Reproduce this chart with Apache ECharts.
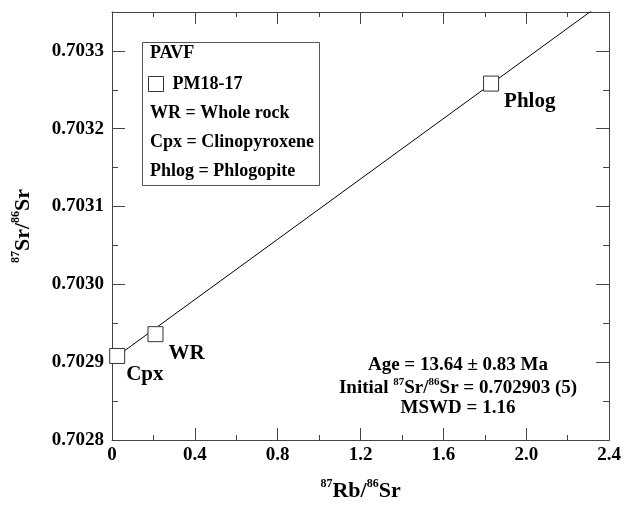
<!DOCTYPE html>
<html>
<head>
<meta charset="utf-8">
<script src="https://cdn.jsdelivr.net/npm/echarts@6/dist/echarts.min.js"></script>
<style>
html,body{margin:0;padding:0;background:#fff;}
#chart{width:624px;height:507px;}
</style>
</head>
<body>
<div id="chart"></div>
<script>
// ---- data ----
var sampleNames = ['Cpx', 'WR', 'Phlog'];
var rbSr = [0.025, 0.21, 1.83];
var srSr = [0.702908, 0.702936, 0.703258];
var isochronX = [0, 2.4];
var isochronY = [0.702903, 0.703368];
var xTicks = [0, 0.4, 0.8, 1.2, 1.6, 2.0, 2.4];
var yTicks = [0.7028, 0.7029, 0.7030, 0.7031, 0.7032, 0.7033];
var legendLines = ['PAVF', 'PM18-17', 'WR = Whole rock', 'Cpx = Clinopyroxene', 'Phlog = Phlogopite'];
var statLines = ['Age = 13.64 \u00b1 0.83 Ma', 'Initial 87Sr/86Sr = 0.702903 (5)', 'MSWD = 1.16'];

var FONT = '"Liberation Serif", "Times New Roman", serif';
var AX = '#444';
var labelPos = [[17, 27], [21, 27], [21, 26]];

var pts = rbSr.map(function (x, i) {
  return {
    value: [x, srSr[i]],
    name: sampleNames[i],
    label: { position: labelPos[i] }
  };
});
var linePts = isochronX.map(function (x, i) { return [x, isochronY[i]]; });

var XMIN = xTicks[0], XMAX = xTicks[xTicks.length - 1];
var YMIN = yTicks[0], YMAX = 0.70335;

function xAxisDef(pos, interval, len, major) {
  return {
    type: 'value', position: pos, min: XMIN, max: XMAX, interval: interval,
    axisLine: { show: major, onZero: false, lineStyle: { color: AX, width: 1 } },
    axisTick: { show: true, inside: true, length: len, lineStyle: { color: AX } },
    axisLabel: {
      show: major && pos === 'bottom', margin: 6,
      fontFamily: FONT, fontWeight: 'bold', fontSize: 19, color: '#000',
      formatter: function (v) { return v === 0 ? '0' : v.toFixed(1); }
    },
    splitLine: { show: false }
  };
}
function yAxisDef(pos, interval, len, major) {
  return {
    type: 'value', position: pos, min: YMIN, max: YMAX, interval: interval,
    axisLine: { show: major, onZero: false, lineStyle: { color: AX, width: 1 } },
    axisTick: { show: true, inside: true, length: len, lineStyle: { color: AX } },
    axisLabel: {
      show: major && pos === 'left', margin: 8, showMaxLabel: false,
      fontFamily: FONT, fontWeight: 'bold', fontSize: 19, color: '#000',
      formatter: function (v) {
        var k = v * 1e4;
        return Math.abs(k - Math.round(k)) < 1e-5 ? v.toFixed(4) : '';
      }
    },
    splitLine: { show: false }
  };
}

var xAxes = [
  xAxisDef('bottom', 0.4, 12, true),
  xAxisDef('bottom', 0.2, 5, false),
  xAxisDef('top', 0.4, 12, true),
  xAxisDef('top', 0.2, 5, false)
];
xAxes[0].name = '{s|87}{b|Rb/}{s|86}{b|Sr}';
xAxes[0].nameLocation = 'middle';
xAxes[0].nameGap = 38;
xAxes[0].nameTextStyle = {
  rich: {
    b: { fontFamily: FONT, fontWeight: 'bold', fontSize: 22, color: '#000', verticalAlign: 'bottom', lineHeight: 24 },
    s: { fontFamily: FONT, fontWeight: 'bold', fontSize: 12, color: '#000', verticalAlign: 'top', lineHeight: 24 }
  }
};

var yAxes = [
  yAxisDef('left', 0.0001, 13, true),
  yAxisDef('left', 0.00005, 6, false),
  yAxisDef('right', 0.0001, 13, true),
  yAxisDef('right', 0.00005, 6, false)
];
yAxes[0].name = '{s|87}{b|Sr/}{s|86}{b|Sr}';
yAxes[0].nameLocation = 'middle';
yAxes[0].nameRotate = 90;
yAxes[0].nameGap = 78;
yAxes[0].nameTextStyle = xAxes[0].nameTextStyle;

var legendGraphics = [
  { type: 'rect', shape: { x: 142.5, y: 42.5, width: 177, height: 143 },
    style: { fill: '#fff', stroke: '#555', lineWidth: 1 }, z: 10 }
];
var legendY = [53, 83, 113, 142, 171];
[0, 2, 3, 4].forEach(function (i) {
  legendGraphics.push({
    type: 'text', x: 150, y: legendY[i], z: 11,
    style: { text: legendLines[i], fontFamily: FONT, fontWeight: 'bold', fontSize: 18,
             fill: '#000', textAlign: 'left', textVerticalAlign: 'middle' }
  });
});

var statY = [365, 387, 408];
var statGraphics = [
  { type: 'text', x: 458, y: statY[0], style: { text: statLines[0], fontFamily: FONT, fontWeight: 'bold', fontSize: 19, fill: '#000', textAlign: 'center', textVerticalAlign: 'middle' } },
  { type: 'text', x: 458, y: statY[1], style: {
      text: '{b|Initial }{s|87}{b|Sr/}{s|86}{b|Sr = 0.702903 (5)}',
      textAlign: 'center', textVerticalAlign: 'middle',
      rich: {
        b: { fontFamily: FONT, fontWeight: 'bold', fontSize: 19, fill: '#000', verticalAlign: 'bottom', lineHeight: 21 },
        s: { fontFamily: FONT, fontWeight: 'bold', fontSize: 11, fill: '#000', verticalAlign: 'top', lineHeight: 21 }
      } } },
  { type: 'text', x: 458, y: statY[2], style: { text: statLines[2], fontFamily: FONT, fontWeight: 'bold', fontSize: 19, fill: '#000', textAlign: 'center', textVerticalAlign: 'middle' } }
];

var chart = echarts.init(document.getElementById('chart'), null, { renderer: 'canvas' });
chart.setOption({
  animation: false,
  backgroundColor: '#fff',
  grid: { left: 112, right: 14, top: 12, bottom: 62, containLabel: false },
  xAxis: xAxes,
  yAxis: yAxes,
  legend: {
    data: ['PM18-17'], left: 148, top: 75, padding: 0,
    icon: 'rect', itemWidth: 15, itemHeight: 15, z: 12,
    itemStyle: { color: '#fff', borderColor: '#333', borderWidth: 1 },
    textStyle: { fontFamily: FONT, fontWeight: 'bold', fontSize: 18, color: '#000', padding: [0, 0, 0, 4] },
    selectedMode: false
  },
  series: [
    {
      name: 'isochron', type: 'line', data: linePts, symbol: 'none', clip: true,
      lineStyle: { color: '#000', width: 1 }, z: 2, silent: true
    },
    {
      name: 'PM18-17', type: 'scatter', data: pts, symbol: 'rect', symbolSize: 15, z: 3,
      itemStyle: { color: '#fff', borderColor: '#333', borderWidth: 1, opacity: 1 },
      label: {
        show: true, formatter: '{b}', align: 'left', verticalAlign: 'middle',
        fontFamily: FONT, fontWeight: 'bold', fontSize: 21, color: '#000'
      }
    }
  ],
  graphic: legendGraphics.concat(statGraphics)
});
</script>
</body>
</html>
